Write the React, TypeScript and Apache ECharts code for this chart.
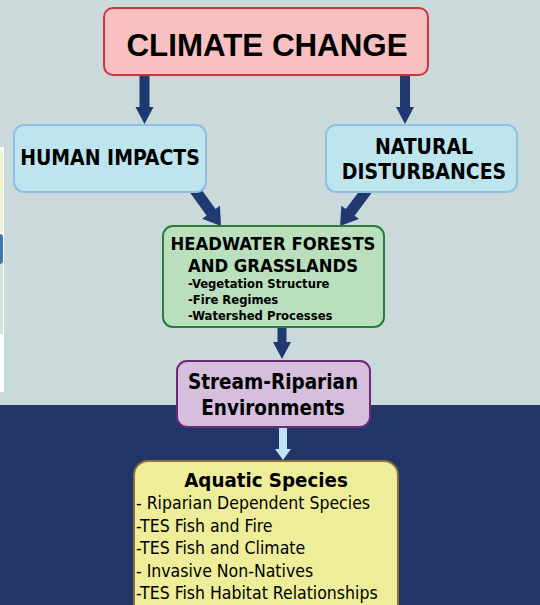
import React, { useEffect, useRef } from "react";
import * as echarts from "echarts";

// ---- Diagram content (texts) ----
const climateLabel = ["CLIMATE CHANGE"];
const humanLabel = ["HUMAN IMPACTS"];
const naturalLabel = ["NATURAL", "DISTURBANCES"];
const headwaterTitle = ["HEADWATER FORESTS", "AND GRASSLANDS"];
const headwaterItems = ["-Vegetation Structure", "-Fire Regimes", "-Watershed Processes"];
const streamLabel = ["Stream-Riparian", "Environments"];
const aquaticTitle = ["Aquatic Species"];
const aquaticItems = [
  "- Riparian Dependent Species",
  "-TES Fish and Fire",
  "-TES Fish and Climate",
  "- Invasive Non-Natives",
  "-TES Fish Habitat Relationships",
];

const FONT = "'DejaVu Sans Condensed', 'DejaVu Sans', sans-serif";

function arrowPoints(x0: number, y0: number, x1: number, y1: number, sw: number, hw: number, hl: number) {
  const dx = x1 - x0, dy = y1 - y0;
  const L = Math.sqrt(dx * dx + dy * dy);
  const ux = dx / L, uy = dy / L;
  const px = -uy, py = ux;
  const bx = x1 - ux * hl, by = y1 - uy * hl;
  return [
    [x0 + px * sw, y0 + py * sw],
    [bx + px * sw, by + py * sw],
    [bx + px * hw, by + py * hw],
    [x1, y1],
    [bx - px * hw, by - py * hw],
    [bx - px * sw, by - py * sw],
    [x0 - px * sw, y0 - py * sw],
  ];
}

function box(x: number, y: number, w: number, h: number, r: number, fill: string, stroke: string) {
  return {
    type: "rect",
    shape: { x, y, width: w, height: h, r },
    style: { fill, stroke, lineWidth: 2 },
  };
}

function text(t: string, x: number, y: number, size: number, bold: boolean, align: string, family = FONT) {
  return {
    type: "text",
    x,
    y,
    style: {
      text: t,
      fill: "#000",
      font: `${bold ? "bold " : ""}${size}px ${family}`,
      textAlign: align,
      textVerticalAlign: "middle",
    },
  };
}

export default function App() {
  const ref = useRef<HTMLDivElement>(null);
  useEffect(() => {
    if (!ref.current) return;
    const chart = echarts.init(ref.current, undefined, { renderer: "svg" });
    const navy = "#1f3a70";
    const elements: any[] = [];
    // backgrounds
    elements.push({ type: "rect", shape: { x: 0, y: 0, width: 540, height: 406 }, style: { fill: "#cad9da" } });
    elements.push({ type: "rect", shape: { x: 0, y: 405, width: 540, height: 200 }, style: { fill: "#1f3667" } });
    // left strip
    elements.push({ type: "rect", shape: { x: 0, y: 147, width: 4, height: 245 }, style: { fill: "#ffffff" } });
    elements.push({ type: "rect", shape: { x: 0, y: 150, width: 3, height: 82 }, style: { fill: "#f3f4cf" } });
    elements.push({ type: "rect", shape: { x: 0, y: 264, width: 3, height: 70 }, style: { fill: "#cfe6d8" } });
    elements.push({ type: "rect", shape: { x: 0, y: 234, width: 3, height: 30, r: [0, 3, 3, 0] }, style: { fill: "#3c7aa8" } });

    // arrows
    const arrows = [
      { p: arrowPoints(144.5, 75, 144.5, 124, 5, 9, 17), c: navy },
      { p: arrowPoints(405, 75, 405, 124, 5, 9, 17), c: navy },
      { p: arrowPoints(195, 190, 221, 226, 5.5, 11, 17), c: navy },
      { p: arrowPoints(367, 190, 340, 226, 5.5, 11, 17), c: navy },
      { p: arrowPoints(282, 327, 282, 359, 4.5, 9, 17), c: navy },
      { p: arrowPoints(283, 422, 283, 460, 4, 8, 11), c: "#bfe4f8" },
    ];
    arrows.forEach((a) => elements.push({ type: "polygon", shape: { points: a.p }, style: { fill: a.c } }));

    // boxes
    elements.push(box(104, 8, 324, 67, 9, "#f8c0c1", "#d2333a"));
    elements.push(text(climateLabel[0], 267, 45, 31.3, true, "center", "'Liberation Sans', Arial, sans-serif"));

    elements.push(box(14, 125, 192, 67, 10, "#bee4ee", "#90bfe6"));
    elements.push(text(humanLabel[0], 110, 158, 21, true, "center"));

    elements.push(box(326, 125, 191, 67, 10, "#bee4ee", "#90bfe6"));
    naturalLabel.forEach((t, i) => elements.push(text(t, 424, 147 + i * 25, 21, true, "center")));

    elements.push(box(163, 226, 221, 101, 10, "#b9dfbd", "#2c7a3d"));
    headwaterTitle.forEach((t, i) => elements.push(text(t, 273, 243 + i * 22, 18.3, true, "center")));
    headwaterItems.forEach((t, i) => elements.push(text(t, 188, 283 + i * 16, 12.9, true, "left")));

    elements.push(box(177, 361, 193, 66, 10, "#d6bedd", "#6e2a78"));
    streamLabel.forEach((t, i) => elements.push(text(t, 273, 382 + i * 26, 20.5, true, "center")));

    elements.push(box(134, 461, 264, 160, 14, "#eeee9a", "#8f6a3a"));
    elements.push(text(aquaticTitle[0], 266, 480, 20.3, true, "center"));
    aquaticItems.forEach((t, i) => elements.push(text(t, 136, 503 + i * 22.6, 17.5, false, "left")));

    chart.setOption({ animation: false, graphic: { elements } });
    return () => chart.dispose();
  }, []);
  return <div ref={ref} style={{ position: "absolute", left: 0, top: 0, width: 540, height: 605 }} />;
}
